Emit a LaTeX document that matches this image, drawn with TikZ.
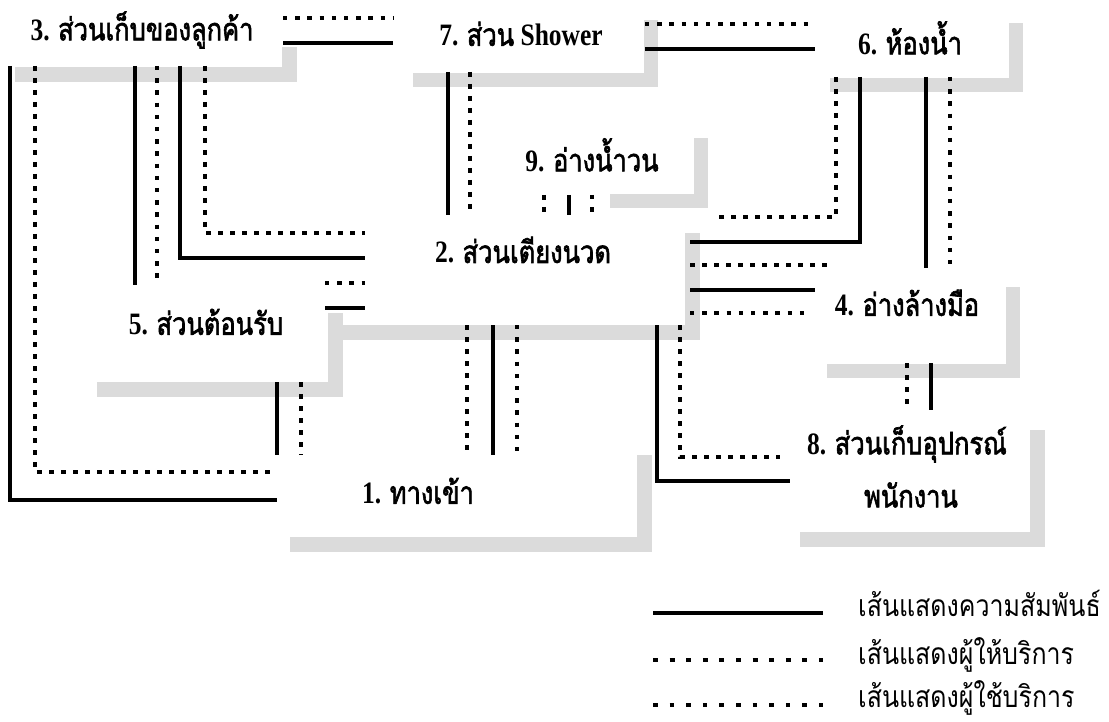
\documentclass[tikz,border=0pt]{standalone}
\usepackage{fontspec}
\setmainfont{Liberation Serif}
\newfontfamily\thai[Script=Thai, AutoFakeBold=2.2]{Loma}
\usetikzlibrary{calc}
\tikzset{
  rel/.style={line width=4.2pt},
  prov/.style={line width=4.8pt, dash pattern=on 4.8pt off 7.2pt},
  usr/.style={line width=4.4pt, dash pattern=on 4.4pt off 7.8pt},
  legprov/.style={line width=4.8pt, dash pattern=on 5pt off 11.6pt},
  legusr/.style={line width=4.4pt, dash pattern=on 4.6pt off 12pt},
  area/.style={inner sep=0pt, outer sep=0pt, draw=none},
  lab/.style={font=\fontsize{25.5}{30}\selectfont\bfseries, inner sep=0pt},
  leg/.style={font=\fontsize{25}{30}\selectfont\thai, inner sep=0pt, anchor=base west},
  shadowc/.style={fill=black!14},
}
\newcommand\tall[1]{\scalebox{1}[1.22]{#1}}
\newcommand\legtall[1]{\scalebox{1}[1.2]{#1}}
\newcommand\shadL[5]{%
  \fill[shadowc] (#3-#5,#2) rectangle (#3,#4);
  \fill[shadowc] (#1,#4-#5) rectangle (#3-#5,#4);}
\newcommand\areabox[5]{%
  \node[area, minimum width={(#4-#2)*1pt}, minimum height={(#5-#3)*1pt}]
    (#1) at ({(#2+#4)/2},{(#3+#5)/2}) {};}
\begin{document}
\begin{tikzpicture}[x=1pt,y=-1pt]
\useasboundingbox[fill=white] (0,0) rectangle (1109,722);
% shadows
\shadL{15}{47}{297}{82}{15}
\shadL{413}{20}{658}{87}{14}
\shadL{610}{138}{708}{208}{14}
\shadL{830}{23}{1023}{92}{14}
\shadL{330}{233}{700}{340}{15}
\shadL{97}{313}{343}{397}{15}
\shadL{827}{287}{1020}{378}{14}
\shadL{800}{430}{1045}{547}{15}
\shadL{290}{455}{652}{552}{15}
% areas
\areabox{b3}{5}{0}{283}{66}
\areabox{b7}{393}{0}{645}{72}
\areabox{b6}{815}{0}{1010}{77}
\areabox{b9}{520}{130}{693}{195}
\areabox{b2}{365}{215}{690}{325}
\areabox{b5}{95}{285}{325}{382}
\areabox{b4}{830}{268}{1007}{363}
\areabox{b8}{790}{410}{1030}{530}
\areabox{b1}{277}{455}{637}{535}
% labels
\node[lab] (t3) at (142,30) {\tall{3. {\thai ส่วนเก็บของลูกค้า}}};
\node[lab] (t7) at (521,34) {\tall{7. {\thai ส่วน} Shower}};
\node[lab] (t9) at (592,155) {\tall{9. {\thai อ่างน้ำวน}}};
\node[lab] (t6) at (910,38) {\tall{6. {\thai ห้องน้ำ}}};
\node[lab] (t2) at (523,250) {\tall{2. {\thai ส่วนเตียงนวด}}};
\node[lab] (t5) at (206,322) {\tall{5. {\thai ส่วนต้อนรับ}}};
\node[lab] (t4) at (907,303) {\tall{4. {\thai อ่างล้างมือ}}};
\node[lab] (t8) at (907,444) {\tall{8. {\thai ส่วนเก็บอุปกรณ์}}};
\node[lab] (t8b) at (911,495) {\tall{{\thai พนักงาน}}};
\node[lab] (t1) at (418,491) {\tall{1. {\thai ทางเข้า}}};
% N3 connectors
\draw[rel] (10,0 |- b3.south) -- (10,500) -- (b1.west |- 0,500);
\draw[prov] (35,0 |- b3.south) -- (35,472) -- ($(b1.west |- 0,472)+(-5,0)$);
\draw[rel] (135,0 |- b3.south) -- (135,0 |- b5.north);
\draw[usr] (157,0 |- b3.south) -- (157,0 |- b5.north);
\draw[rel] (180,0 |- b3.south) -- (180,258) -- (b2.west |- 0,258);
\draw[prov] (205,0 |- b3.south) -- (205,233) -- (b2.west |- 0,233);
\draw[usr] (b3.east |- 0,18) -- (b7.west |- 0,18);
\draw[rel] (b3.east |- 0,43) -- (b7.west |- 0,43);
% N7 connectors
\draw[rel] (448,0 |- b7.south) -- (448,0 |- b2.north);
\draw[prov] (470,0 |- b7.south) -- (470,0 |- b2.north);
\draw[usr] (b7.east |- 0,24) -- (b6.west |- 0,24);
\draw[rel] (b7.east |- 0,49) -- (b6.west |- 0,49);
% N6 connectors
\draw[rel] (860,0 |- b6.south) -- (860,242) -- (b2.east |- 0,242);
\draw[prov] (836,0 |- b6.south) -- (836,217) -- ($(b2.east |- 0,217)+(27,0)$);
\draw[rel] (926,0 |- b6.south) -- (926,0 |- b4.north);
\draw[usr] (950,0 |- b6.south) -- (950,0 |- b4.north);
% N2 - N4
\draw[prov] (b2.east |- 0,265) -- (b4.west |- 0,265);
\draw[rel] (b2.east |- 0,290) -- ($(b4.west |- 0,290)+(-15,0)$);
\draw[usr] (b2.east |- 0,313) -- ($(b4.west |- 0,313)+(-25,0)$);
% N4 - N8
\draw[prov] (907,0 |- b4.south) -- (907,0 |- b8.north);
\draw[rel] (931,0 |- b4.south) -- (931,0 |- b8.north);
% N2 - N8
\draw[rel] (657,0 |- b2.south) -- (657,481) -- (b8.west |- 0,481);
\draw[prov] (680,0 |- b2.south) -- (680,457) -- ($(b8.west |- 0,457)+(-10,0)$);
% N2 - N1
\draw[prov] (467,0 |- b2.south) -- (467,0 |- b1.north);
\draw[rel] (493,0 |- b2.south) -- (493,0 |- b1.north);
\draw[usr] (517,0 |- b2.south) -- (517,0 |- b1.north);
% N5 - N2
\draw[usr] (b5.east |- 0,283) -- (b2.west |- 0,283);
\draw[rel] (b5.east |- 0,308) -- (b2.west |- 0,308);
% N5 - N1
\draw[rel] (277,0 |- b5.south) -- (277,0 |- b1.north);
\draw[prov] (301,0 |- b5.south) -- (301,0 |- b1.north);
% N9 - N2
\draw[prov] (544,0 |- b9.south) -- (544,0 |- b2.north);
\draw[rel] (569,0 |- b9.south) -- (569,0 |- b2.north);
\draw[usr] (592,0 |- b9.south) -- (592,0 |- b2.north);
% legend
\coordinate (l1a) at (653,613); \coordinate (l1b) at (823,613);
\coordinate (l2a) at (653,660); \coordinate (l2b) at (823,660);
\coordinate (l3a) at (653,705); \coordinate (l3b) at (823,705);
\draw[rel] (l1a) -- (l1b);
\draw[legprov] (l2a) -- (l2b);
\draw[legusr] (l3a) -- (l3b);
\node[leg] (g1) at (858,616) {\legtall{เส้นแสดงความสัมพันธ์}};
\node[leg] (g2) at (858,664) {\legtall{เส้นแสดงผู้ให้บริการ}};
\node[leg] (g3) at (858,707) {\legtall{เส้นแสดงผู้ใช้บริการ}};
\end{tikzpicture}
\end{document}
